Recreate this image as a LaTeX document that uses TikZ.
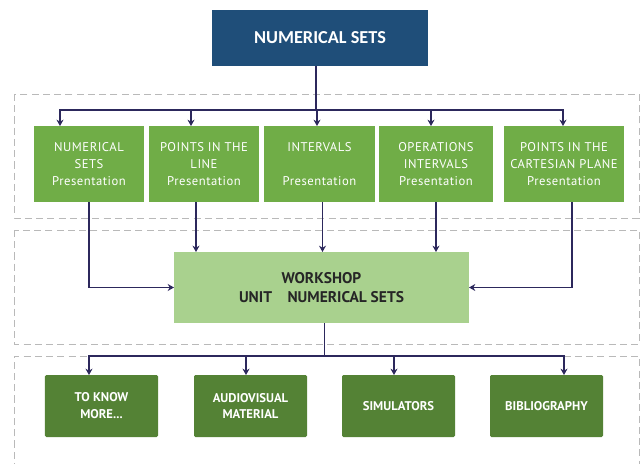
\documentclass[tikz,border=0pt]{standalone}
\usepackage{fontspec}
\setmainfont{PT Sans}
\newfontfamily\carlito{Carlito}
\newfontfamily\widesans[LetterSpace=4]{PT Sans}
\usetikzlibrary{arrows.meta, positioning, calc}

\begin{document}
\begin{tikzpicture}[x=0.25mm, y=-0.25mm,
        box/.style={inner sep=0pt, outer sep=0pt, align=center},
        present/.style={box, fill=mygreen, text=white, minimum height=19mm, font=\widesans\fontsize{9}{12}\selectfont},
        res/.style={box, fill=mydarkgreen, text=white, rounded corners=1pt, minimum width=28.25mm, minimum height=15.5mm, font=\bfseries\fontsize{9}{12}\selectfont},
        link/.style={draw=myline, line width=1.2pt, -{Stealth[length=4.5pt, width=5pt]}},
        zone/.style={draw=gray!55, dash pattern=on 5pt off 3pt, line width=0.5pt}]
        % Màu sắc
        \definecolor{myblue}{RGB}{31, 78, 121}
        \definecolor{mygreen}{RGB}{112, 173, 71}
        \definecolor{mylightgreen}{RGB}{169, 209, 142}
        \definecolor{mydarkgreen}{RGB}{84, 130, 53}
        \definecolor{myline}{RGB}{44, 40, 92}

        \useasboundingbox (0,0) rectangle (642,464);

        % Khung nét đứt
        \draw[zone] (14,94) rectangle (639,218);
        \draw[zone] (14,230) rectangle (639,344);
        \draw[zone] (14,470) |- (639,356) -- (639,470);

        % 1. Nút gốc
        \node[box, fill=myblue, text=white, minimum width=54mm, minimum height=14mm,
              font=\carlito\bfseries\fontsize{13}{15}\selectfont] (top) at (320, 38) {NUMERICAL SETS};

        % 2. Các bài trình bày
        \node[present, minimum width=27.5mm] (p1) at (89, 164) {NUMERICAL\\SETS\\Presentation};
        \node[present, minimum width=27.5mm] (p2) at (204, 164) {POINTS IN THE\\LINE\\Presentation};
        \node[present, minimum width=27.75mm] (p3) at (319.5, 164) {INTERVALS\\~\\Presentation};
        \node[present, minimum width=28.5mm] (p4) at (436, 164) {OPERATIONS\\INTERVALS\\Presentation};
        \node[present, minimum width=30mm] (p5) at (564, 164) {POINTS IN THE\\CARTESIAN PLANE\\Presentation};

        \foreach \n/\x in {p1/60, p2/191, p3/317, p4/431, p5/563}
            \draw[link] ([xshift=-1mm]top.south) |- (\x,110) -- (\x,0 |- \n.north);

        % 3. Workshop
        \node[box, fill=mylightgreen, text=black!85, minimum width=73.75mm, minimum height=17.75mm,
              font=\bfseries\fontsize{11}{14}\selectfont] (ws) at (321.5, 287.5) {WORKSHOP\\UNIT\quad NUMERICAL SETS};

        \draw[link] (p1.south) |- (ws.west);
        \draw[link] ([xshift=-2mm]p2.south) -- ([xshift=-2mm]p2.south |- ws.north);
        \draw[link] ([xshift=0.75mm]p3.south) -- ([xshift=0.75mm]p3.south |- ws.north);
        \draw[link] (p4.south) -- (p4.south |- ws.north);
        \draw[link] ([xshift=2mm]p5.south) |- (ws.east);

        % 4. Tài nguyên
        \node[res] (r1) at (101.5, 406) {TO KNOW\\MORE...};
        \node[res] (r2) at (250.5, 406) {AUDIOVISUAL\\MATERIAL};
        \node[res] (r3) at (398.5, 406) {SIMULATORS};
        \node[res] (r4) at (546.5, 406) {BIBLIOGRAPHY};

        \foreach \n/\x in {r1/89, r2/246, r3/394, r4/564}
            \draw[link] ([xshift=0.75mm]ws.south) |- (\x,356) -- (\x,0 |- \n.north);

    \end{tikzpicture}
\end{document}
